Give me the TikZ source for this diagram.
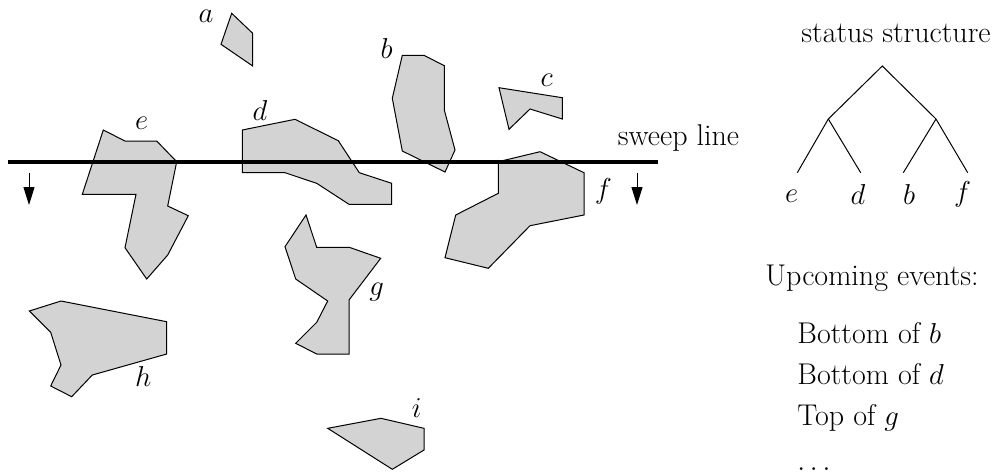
\documentclass[tikz,border=0pt]{standalone}
\usepackage{fontspec}
\usetikzlibrary{arrows.meta}
\definecolor{polyfill}{RGB}{211,211,211}
\begin{document}
\begin{tikzpicture}[x=0.5pt,y=-0.5pt,
  poly/.style={draw=black,fill=polyfill,line width=0.5pt,line join=miter},
  lbl/.style={inner sep=0pt,font=\fontsize{14}{16}\selectfont},
  txt/.style={inner sep=0pt,font=\fontsize{15}{18}\selectfont},
  treeline/.style={line width=0.5pt},
  sweep/.style={line width=1.6pt},
  downarrow/.style={line width=0.5pt,-{Triangle[length=9pt,width=5.5pt]}}]
\useasboundingbox (0,0) rectangle (1000,473);
% polygons
\draw[poly] (231.7,13.3) -- (252.7,33.3) -- (252.7,66) -- (221,44.3) -- cycle;
\draw[poly] (402.3,55.3) -- (424,55.3) -- (444.3,65.7) -- (444.3,110) -- (455,150) -- (445,172) -- (402.3,151) -- (392.3,98.3) -- cycle;
\draw[poly] (499,87.7) -- (562.3,97.7) -- (562.3,119) -- (530,109) -- (509,129.3) -- cycle;
\draw[poly] (242.3,130) -- (295,119.3) -- (338.3,140.7) -- (359.3,172.7) -- (391.7,183.3) -- (391.7,204.3) -- (349,204.3) -- (316.7,183.3) -- (285,172.7) -- (242.3,172.7) -- cycle;
\draw[poly] (103.3,130) -- (125,141) -- (156.7,141) -- (176.7,161.7) -- (167.7,206) -- (188.3,215.7) -- (167.7,255) -- (146.7,279) -- (125,247.7) -- (136,194.3) -- (82.3,194.3) -- cycle;
\draw[poly] (498.3,161.7) -- (540,151.7) -- (584,172.7) -- (584,215) -- (530,225.7) -- (488.3,268.3) -- (445,257.7) -- (455.7,215) -- (498.3,193.3) -- cycle;
\draw[poly] (306,215) -- (316.7,247.3) -- (349.3,247.3) -- (380.7,258.3) -- (349,300) -- (349,354) -- (316.7,354) -- (295.7,343.3) -- (316.7,322.3) -- (327.7,301) -- (295.7,279) -- (285,246.7) -- cycle;
\draw[poly] (29.3,311) -- (61,301) -- (166.7,321.7) -- (166.7,354) -- (92.3,375) -- (71.7,396.7) -- (50.7,386) -- (61,365) -- (50.7,332.3) -- cycle;
\draw[poly] (327.7,428.3) -- (381,418.3) -- (424,428.3) -- (424,450) -- (392.3,469.3) -- cycle;
% polygon labels
\node[lbl] (la) at (206,16.7) {$a$};
\node[lbl] (lb) at (386.7,48) {$b$};
\node[lbl] (lc) at (546.7,80) {$c$};
\node[lbl] (ld) at (260,110.7) {$d$};
\node[lbl] (le) at (141.7,123.3) {$e$};
\node[lbl] (lf) at (603.3,191.7) {$f$};
\node[lbl] (lg) at (376.7,291.7) {$g$};
\node[lbl] (lh) at (143.3,376.7) {$h$};
\node[lbl] (li) at (416.7,408.3) {$i$};
% sweep line
\coordinate (sl) at (8,162);
\coordinate (sr) at (658,162);
\draw[sweep] (sl) -- (sr);
\node[txt,anchor=base] (sweeptxt) at (678.5,145) {sweep line};
\coordinate (a1s) at (29,172.7);
\coordinate (a1e) at (29,205);
\coordinate (a2s) at (637,172.7);
\coordinate (a2e) at (637,205);
\draw[downarrow] (a1s) -- (a1e);
\draw[downarrow] (a2s) -- (a2e);
% status structure
\node[txt,anchor=base] (stat) at (896,42) {status structure};
\coordinate (root) at (882.3,66);
\coordinate (tl) at (828.3,119);
\coordinate (tr) at (936,119);
\coordinate (t1) at (797.3,172.7);
\coordinate (t2) at (860.7,172.7);
\coordinate (t3) at (903.3,172.7);
\coordinate (t4) at (967.7,172.7);
\draw[treeline] (t1) -- (tl) -- (root) -- (tr) -- (t4);
\draw[treeline] (tl) -- (t2);
\draw[treeline] (tr) -- (t3);
\node[lbl] (te) at (791.7,196.5) {$e$};
\node[lbl] (td) at (858,194) {$d$};
\node[lbl] (tb) at (909,194) {$b$};
\node[lbl] (tf) at (962.7,194) {$f$};
% events
\node[txt,anchor=base west] (up) at (765,285) {Upcoming events:};
\node[txt,anchor=base west] (ev1) at (797,343) {Bottom of $b$};
\node[txt,anchor=base west] (ev2) at (797,384) {Bottom of $d$};
\node[txt,anchor=base west] (ev3) at (797,425) {Top of $g$};
\node[txt,anchor=base west] (ev4) at (797,470) {$\ldots$};
\end{tikzpicture}
\end{document}
